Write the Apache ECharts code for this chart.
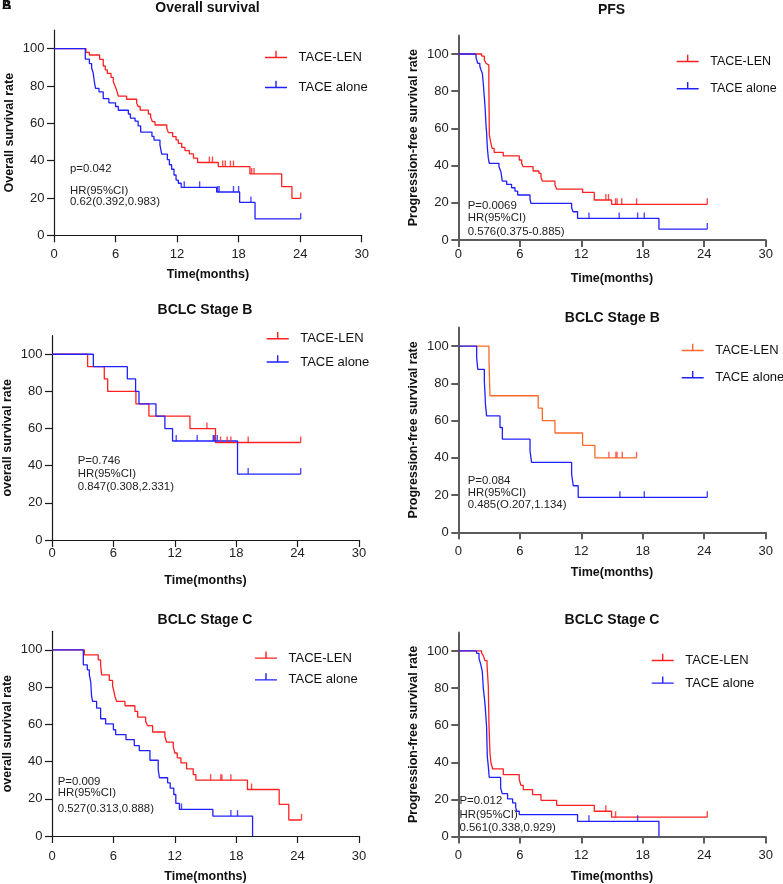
<!DOCTYPE html>
<html><head><meta charset="utf-8">
<script src="https://cdn.jsdelivr.net/npm/echarts@6/dist/echarts.min.js"></script>
<style>html,body{margin:0;padding:0;background:#fff}#c{width:783px;height:884px}</style>
</head><body><div id="c"></div>
<script>
// ---------- DATA ----------
const xTicks = [0, 6, 12, 18, 24, 30];
const yTicks = [0, 20, 40, 60, 80, 100];
const groupNames = ['TACE-LEN', 'TACE alone'];
const panelTitles = ['Overall survival', 'PFS', 'BCLC Stage B', 'BCLC Stage B', 'BCLC Stage C', 'BCLC Stage C'];
const yNames = ['Overall survival rate', 'Progression-free survival rate', 'overall survival rate',
  'Progression-free survival rate', 'overall survival rate', 'Progression-free survival rate'];
const xName = 'Time(months)';
const statTexts = [
  ['p=0.042', 'HR(95%CI)', '0.62(0.392,0.983)'],
  ['P=0.0069', 'HR(95%CI)', '0.576(0.375-0.885)'],
  ['P=0.746', 'HR(95%CI)', '0.847(0.308,2.331)'],
  ['P=0.084', 'HR(95%CI)', '0.485(O.207,1.134)'],
  ['P=0.009', 'HR(95%CI)', '0.527(0.313,0.888)'],
  ['P=0.012', 'HR(95%CI)', '0.561(0.338,0.929)']
];

// Overall survival (all)
const osLen = [[0,100],[3.12,98],[3.45,96.6],[4.45,94.3],[4.8,90.7],[5.0,88.6],[5.2,86.8],[5.56,84.6],[5.78,82.3],[5.95,80],[6.1,77.9],[6.2,76],[6.27,74.6],[7.08,72.9],[8.06,70.7],[8.2,69],[8.4,67.1],[9.2,65],[9.42,63.2],[9.6,60.9],[9.85,59.1],[11.0,57.3],[11.15,55],[11.57,52.9],[11.9,51.1],[12.12,49.3],[12.45,47.1],[12.77,45.4],[13.2,43.6],[13.6,41.3],[14.0,39],[16.02,36.8],[19.1,32.9],[22.2,26.1],[23.2,19.8],[24.05,19.8]];
const osLenCens = [[15.15,39],[15.45,39],[16.45,36.8],[16.7,36.8],[17.2,36.8],[17.5,36.8],[19.27,32.9],[19.5,32.9],[24.05,19.8]];
const osAlone = [[0,100],[3.05,94.4],[3.45,92],[3.67,89.5],[3.83,86.8],[3.93,82.3],[4.05,78.7],[4.39,76.8],[4.8,73.2],[5.35,71],[6.0,69],[6.27,67],[7.25,65],[7.45,62.8],[7.9,61.2],[8.2,58.6],[8.45,55.3],[9.55,53],[9.75,51],[10.33,48.4],[10.5,43.5],[11.05,40.5],[11.25,37.8],[11.47,35.4],[11.7,32.3],[11.9,29.6],[12.12,27.9],[12.4,25.7],[15.86,23.2],[18.1,17.6],[19.6,8.75],[24.05,8.75]];
const osAloneCens = [[12.7,25.7],[14.2,25.7],[15.95,23.2],[16.1,23.2],[17.5,23.2],[18.0,23.2],[19.2,17.6],[24.05,8.75]];

// PFS (all)
const pfsLen = [[0,100],[2.28,98.9],[2.54,96.8],[2.7,95],[2.86,94],[2.98,84],[3.03,56.5],[3.15,52.9],[3.3,49.3],[3.5,47.1],[4.39,45.2],[5.95,43],[6.18,41.2],[6.34,39.4],[7.3,37.1],[7.87,35.8],[8.07,33.7],[8.2,31.7],[9.43,29.6],[9.6,27.4],[12.13,25.6],[13.27,21.5],[14.96,19.2],[24.3,19.2]];
const pfsLenCens = [[14.4,21.5],[14.66,21.5],[15.35,19.2],[15.5,19.2],[15.95,19.2],[17.4,19.2],[24.3,19.2]];
const pfsAlone = [[0,100],[1.73,98],[1.9,95],[2.1,93.4],[2.22,91.4],[2.35,89.5],[2.45,83.3],[2.55,76],[2.62,70.8],[2.7,62],[2.76,58],[2.83,50],[2.93,44],[3.02,41.2],[3.97,39.4],[4.16,36.7],[4.29,31.7],[4.72,29.9],[5.2,28.1],[5.53,26.3],[5.79,24.2],[7.0,21.9],[7.09,19.7],[11.06,17.3],[11.2,15.2],[11.64,11.6],[19.58,5.9],[24.3,5.9]];
const pfsAloneCens = [[12.75,11.6],[15.7,11.6],[17.5,11.6],[18.15,11.6],[24.3,5.9]];

// BCLC stage B OS
const bOsLen = [[0,100],[3.48,93.3],[5.11,86.7],[5.44,80],[8.2,73.3],[9.47,66.7],[13.48,60],[15.98,52.5],[24.3,52.5]];
const bOsLenCens = [[15.14,60],[16.47,52.5],[17.12,52.5],[17.48,52.5],[19.17,52.5],[24.3,52.5]];
const bOsAlone = [[0,100],[4.04,93.3],[7.36,86.7],[8.17,80],[8.5,73.3],[10.16,66.7],[11.03,60],[11.78,53.3],[18.13,35.5],[24.3,35.5]];
const bOsAloneCens = [[12.14,53.3],[14.19,53.3],[15.76,53.3],[15.86,53.3],[16.15,53.3],[19.17,35.5],[24.3,35.5]];

// BCLC stage B PFS
const bPfsLen = [[0,100],[2.99,93.3],[3.09,73.3],[7.8,66.7],[8.2,60],[9.43,53.3],[12.13,46.7],[13.33,40],[17.4,40]];
const bPfsLenCens = [[14.7,40],[15.38,40],[15.5,40],[16.0,40],[17.4,40]];
const bPfsAlone = [[0,100],[1.79,93.75],[1.9,87.5],[2.54,81.25],[2.6,75],[2.65,68.75],[2.76,62.5],[4.07,56.25],[4.3,50],[7.0,43.75],[7.15,37.5],[11.06,31.25],[11.22,25],[11.7,18.75],[24.3,18.75]];
const bPfsAloneCens = [[15.77,18.75],[18.15,18.75],[24.3,18.75]];

// BCLC stage C OS
const cOsLen = [[0,100],[3.16,97.3],[4.52,94.6],[4.75,91.9],[4.85,86.6],[5.6,83.6],[5.92,80.6],[6.05,77.7],[6.15,75],[6.32,72.3],[7.13,70],[8.1,67],[8.37,63.9],[9.15,61.6],[9.34,59.3],[9.83,55.9],[11.03,53.6],[11.2,50.4],[11.85,47.9],[12.01,44.6],[12.24,42],[12.6,39.3],[13.15,36.1],[13.8,33],[14.06,30],[19.1,25],[22.2,17],[23.14,8.6],[24.38,8.6]];
const cOsLenCens = [[15.5,30],[16.5,30],[16.6,30],[17.48,30],[19.5,25],[24.38,8.6]];
const cOsAlone = [[0,100],[3.06,92],[3.45,89.3],[3.65,86.6],[3.78,83],[3.87,75],[3.97,72.3],[4.36,68.75],[4.75,63],[5.24,60.2],[6.0,57.1],[6.22,54.5],[7.23,51.8],[8.04,48.6],[8.53,45.9],[9.57,40.7],[10.38,35.7],[10.5,31.3],[11.3,28.6],[11.55,25.7],[11.9,22.3],[12.1,17.5],[12.45,14.3],[15.72,10.7],[19.6,0]];
const cOsAloneCens = [[12.65,14.3],[17.48,10.7],[18.13,10.7]];

// BCLC stage C PFS
const cPfsLen = [[0,100],[2.28,98.7],[2.44,97.5],[2.6,94.8],[2.8,93],[2.93,80.8],[2.99,61.1],[3.09,45],[3.19,39.6],[3.35,36.4],[4.39,33.3],[5.95,30.6],[6.11,27.6],[6.34,25.3],[7.25,22.6],[8.07,19.5],[9.6,16.8],[13.27,13.6],[14.96,10.4],[24.3,10.4]];
const cPfsLenCens = [[14.4,13.6],[15.35,10.4],[24.3,10.4]];
const cPfsAlone = [[0,100],[1.79,98.7],[2.02,96],[2.18,93],[2.34,88.9],[2.44,80],[2.6,71.9],[2.76,59.3],[2.83,43.2],[2.93,37.8],[3.02,31.9],[4.13,26.2],[4.29,23.1],[4.81,20.3],[5.3,18.1],[5.6,15.8],[5.69,13.6],[5.95,11.8],[11.64,8.2],[19.58,0]];
const cPfsAloneCens = [[12.75,8.2],[17.5,8.2]];

const curves = [
  [osLen, osLenCens, osAlone, osAloneCens],
  [pfsLen, pfsLenCens, pfsAlone, pfsAloneCens],
  [bOsLen, bOsLenCens, bOsAlone, bOsAloneCens],
  [bPfsLen, bPfsLenCens, bPfsAlone, bPfsAloneCens],
  [cOsLen, cOsLenCens, cOsAlone, cOsAloneCens],
  [cPfsLen, cPfsLenCens, cPfsAlone, cPfsAloneCens]
];

// ---------- LAYOUT / STYLE ----------
const RED = '#ff2020', BLUE = '#2020ff', ORANGE = '#ff6a2a';
const FONT = '"Liberation Sans", Arial, sans-serif';
const layout = [
  {g:[54,30,307.7,205.3], t:[207.5,1], leg:[265,50,15], st:[70,169,190.5,201.7], xm:13, xg:32.5, left:true, lenColor:RED, censColor:RED, legFont:13},
  {g:[458.3,35.4,307.4,204.6], t:[611.5,3], leg:[676.7,54,12.3], st:[467.7,206,218.3,231.7], xm:7.5, xg:32, left:false, lenColor:RED, censColor:RED, legFont:12.5},
  {g:[51.7,335.7,307.3,204.3], t:[205,302.8], leg:[266.7,331.3,8.3], st:[77.7,461.3,473.7,486.7], xm:6.5, xg:34.5, left:true, lenColor:RED, censColor:RED, legFont:13},
  {g:[458.3,327.4,307.4,204.9], t:[612.3,311.2], leg:[681.7,343,12.3], st:[467.7,480.5,492.8,505.3], xm:12.5, xg:34, left:false, lenColor:ORANGE, censColor:'#ff3d2e', legFont:13},
  {g:[51.7,631.3,307.3,205.4], t:[205,612.8], leg:[255,650.7,6.7], st:[57.7,782,793.3,808.8], xm:14, xg:34, left:true, lenColor:RED, censColor:RED, legFont:13},
  {g:[458.3,632.4,307.4,204.9], t:[612,612.8], leg:[651.7,653,7.7], st:[459.5,801,815,828.3], xm:12, xg:33.5, left:false, lenColor:RED, censColor:RED, legFont:13}
];

const chart = echarts.init(document.getElementById('c'), null, {renderer:'canvas'});
const grid = [], xAxis = [], yAxis = [], series = [], title = [], legend = [], graphic = [];
const iconPath = 'path://M0,6h22v1.4h-22z M10.3,0h1.4v6h-1.4z M28.5,13.5h0.01v0.01h-0.01z';

layout.forEach((L, i) => {
  const axCol = L.left ? '#1a1a1a' : '#5c5c5c';
  const axW = L.left ? 1.2 : 2;
  grid.push({left:L.g[0], top:L.g[1], width:L.g[2], height:L.g[3], containLabel:false});
  xAxis.push({
    type:'value', gridIndex:i, min:0, max:30, interval:6,
    name:xName, nameLocation:'middle', nameGap:L.xg,
    nameTextStyle:{fontFamily:FONT, fontWeight:'bold', fontSize:12.5, color:'#111'},
    axisLine:{show:true, onZero:false, lineStyle:{color:axCol, width:axW}},
    axisTick:{show:true, length:7, lineStyle:{color:axCol, width:axW}},
    axisLabel:{margin:L.xm, fontFamily:FONT, fontSize:13, color:'#222', customValues:xTicks},
    splitLine:{show:false}
  });
  yAxis.push({
    type:'value', gridIndex:i, min:0, max:110,
    name:yNames[i], nameLocation:'middle', nameGap:38, nameRotate:90,
    nameTextStyle:{fontFamily:FONT, fontWeight:'bold', fontSize:12.5, color:'#111'},
    axisLine:{show:true, onZero:false, lineStyle:{color:axCol, width:axW}},
    axisTick:{show:true, length:7, customValues:yTicks, lineStyle:{color:axCol, width:axW}},
    axisLabel:{margin:9.5, fontFamily:FONT, fontSize:13, color:'#222', customValues:yTicks},
    splitLine:{show:false}
  });
  const [len, lenC, alone, aloneC] = curves[i];
  const mk = (name, data, color) => ({
    name, type:'line', step:'end', xAxisIndex:i, yAxisIndex:i, data,
    showSymbol:false, symbol:'none', silent:true, color,
    lineStyle:{color, width:1.3}, itemStyle:{color}, z:2
  });
  const mc = (name, data, color) => ({
    name, type:'scatter', xAxisIndex:i, yAxisIndex:i, data,
    symbol:'rect', symbolSize:[1.4, 6], symbolOffset:[0, -3], silent:true,
    itemStyle:{color}, z:3
  });
  series.push(mk('len' + i, len, L.lenColor));
  series.push(mc('lenC' + i, lenC, L.censColor));
  series.push(mk('alone' + i, alone, BLUE));
  series.push(mc('aloneC' + i, aloneC, BLUE));
  title.push({
    text:panelTitles[i], left:L.t[0], top:L.t[1], textAlign:'center', padding:0,
    textStyle:{fontFamily:FONT, fontWeight:'bold', fontSize:14, color:'#111'}
  });
  legend.push({
    left:L.leg[0], top:L.leg[1], orient:'vertical', itemGap:L.leg[2], padding:0,
    itemWidth:28.5, itemHeight:13.5, icon:iconPath, selectedMode:false,
    data:['len' + i, 'alone' + i],
    formatter:(n) => n.indexOf('len') === 0 ? groupNames[0] : groupNames[1],
    textStyle:{fontFamily:FONT, fontSize:L.legFont, color:'#111', lineHeight:15}
  });
  statTexts[i].forEach((s, k) => {
    graphic.push({type:'text', x:L.st[0], y:L.st[k + 1], silent:true,
      style:{text:s, font:'11.4px ' + FONT, fill:'#222', verticalAlign:'middle', align:'left'}});
  });
});
graphic.push({type:'text', x:2, y:-1, silent:true, style:{text:'A', font:'bold 13px ' + FONT, fill:'#111', verticalAlign:'top'}});
graphic.push({type:'text', x:2, y:-1, silent:true, style:{text:'B', font:'bold 13px ' + FONT, fill:'#111', verticalAlign:'top'}});

chart.setOption({
  animation:false, backgroundColor:'#fff',
  grid, xAxis, yAxis, series, title, legend, graphic
});
</script></body></html>
